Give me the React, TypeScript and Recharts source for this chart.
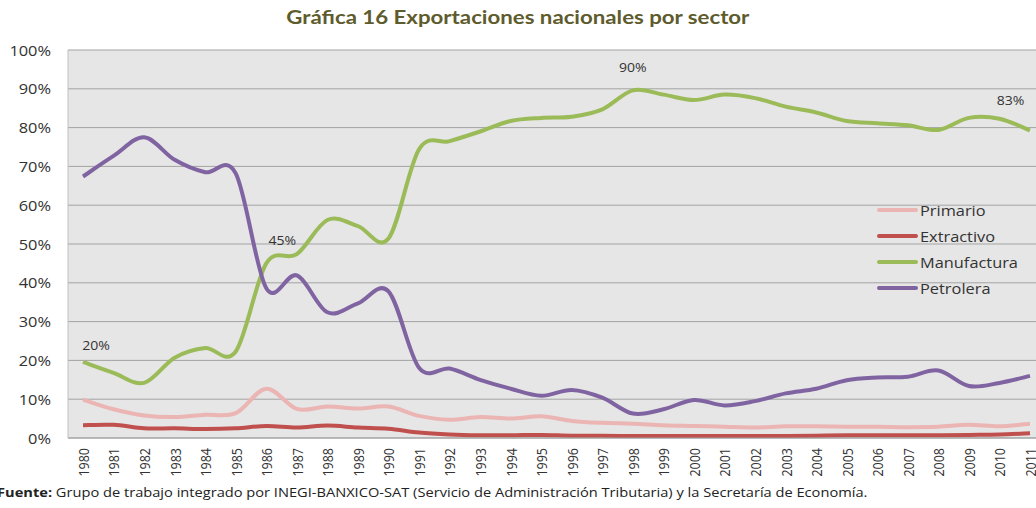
import React from "react";
import { LineChart, Line, XAxis, YAxis, CartesianGrid, LabelList } from "recharts";

const years = [
  "1980","1981","1982","1983","1984","1985","1986","1987","1988","1989",
  "1990","1991","1992","1993","1994","1995","1996","1997","1998","1999",
  "2000","2001","2002","2003","2004","2005","2006","2007","2008","2009",
  "2010","2011",
];

const primario = [
  9.9, 7.4, 5.8, 5.4, 6.0, 6.4, 12.7, 7.5, 8.1, 7.6,
  8.1, 5.7, 4.7, 5.4, 5.0, 5.6, 4.4, 3.9, 3.7, 3.3,
  3.1, 2.9, 2.7, 3.0, 3.0, 2.9, 2.9, 2.8, 2.9, 3.4,
  3.0, 3.7,
];

const extractivo = [
  3.3, 3.4, 2.5, 2.5, 2.3, 2.5, 3.1, 2.7, 3.2, 2.7,
  2.4, 1.4, 0.9, 0.7, 0.7, 0.8, 0.6, 0.6, 0.5, 0.5,
  0.5, 0.5, 0.5, 0.5, 0.6, 0.7, 0.7, 0.7, 0.7, 0.8,
  0.9, 1.2,
];

const manufactura = [
  19.6, 16.8, 14.2, 20.7, 23.2, 22.3, 45.0, 47.4, 56.2, 54.6,
  51.4, 74.4, 76.5, 79.0, 81.7, 82.5, 82.8, 84.7, 89.6, 88.5,
  87.1, 88.5, 87.6, 85.4, 83.9, 81.7, 81.1, 80.6, 79.4, 82.5,
  82.3, 79.3,
];

const petrolera = [
  67.4, 72.7, 77.5, 71.7, 68.5, 68.2, 38.6, 41.9, 32.4, 34.7,
  37.8, 18.1, 17.9, 15.0, 12.7, 10.9, 12.4, 10.4, 6.3, 7.4,
  9.8, 8.4, 9.5, 11.5, 12.7, 14.9, 15.6, 15.8, 17.4, 13.4,
  14.2, 16.0,
];

const yTicks = [0, 10, 20, 30, 40, 50, 60, 70, 80, 90, 100];

// Annotated values on the Manufactura series (year -> text)
const annotationYears = ["1980", "1986", "1998", "2010"];
const annotationTexts = ["20%", "45%", "90%", "83%"];

const seriesNames = ["Primario", "Extractivo", "Manufactura", "Petrolera"];
const seriesColors = ["#EBB5B4", "#C0504D", "#9BBB59", "#8064A2"];

const data = years.map((y, i) => ({
  year: y,
  Primario: primario[i],
  Extractivo: extractivo[i],
  Manufactura: manufactura[i],
  Petrolera: petrolera[i],
}));

const SX = 1.17;
const FONT = "'Open Sans', sans-serif";
const TEXT = "#333333";

const annotationOffsets: Record<string, [number, number]> = {
  "1980": [13, -17],
  "1986": [16, -23],
  "1998": [0, -23],
  "2010": [11, -18],
};

// Catmull-Rom style smoothing similar to spreadsheet "smoothed line"
const smoothCurve: any = (context: any) => {
  let pts: [number, number][] = [];
  return {
    areaStart() {},
    areaEnd() {},
    lineStart() {
      pts = [];
    },
    point(x: number, y: number) {
      pts.push([+x, +y]);
    },
    lineEnd() {
      const n = pts.length;
      if (!n) return;
      context.moveTo(pts[0][0], pts[0][1]);
      for (let i = 0; i < n - 1; i++) {
        const p0 = pts[Math.max(0, i - 1)];
        const p1 = pts[i];
        const p2 = pts[i + 1];
        const p3 = pts[Math.min(n - 1, i + 2)];
        const c1x = p1[0] + (p2[0] - p0[0]) / 6;
        const c1y = p1[1] + (p2[1] - p0[1]) / 6;
        const c2x = p2[0] - (p3[0] - p1[0]) / 6;
        const c2y = p2[1] - (p3[1] - p1[1]) / 6;
        context.bezierCurveTo(c1x, c1y, c2x, c2y, p2[0], p2[1]);
      }
    },
  };
};

const YTick = (props: any) => {
  const { x, y, payload } = props;
  return (
    <g transform={`translate(${x},${y}) scale(${SX},1)`}>
      <text textAnchor="end" dominantBaseline="central" fontFamily={FONT} fontSize={14} fill={TEXT}>
        {payload.value}%
      </text>
    </g>
  );
};

const XTick = (props: any) => {
  const { x, y, payload } = props;
  return (
    <g transform={`translate(${x},${y}) scale(${SX},1) rotate(-90)`}>
      <text textAnchor="end" dominantBaseline="central" fontFamily={FONT} fontSize={12.5} fill={TEXT}>
        {payload.value}
      </text>
    </g>
  );
};

const AnnotationLabel = (props: any) => {
  const { x, y, index } = props;
  const yr = years[index];
  const k = annotationYears.indexOf(yr);
  if (k < 0) return null;
  const [dx, dy] = annotationOffsets[yr] || [0, -20];
  return (
    <g transform={`translate(${x + dx},${y + dy}) scale(${SX},1)`}>
      <text textAnchor="middle" dominantBaseline="central" fontFamily={FONT} fontSize={12} fill={TEXT}>
        {annotationTexts[k]}
      </text>
    </g>
  );
};

const LegendBox = () => (
  <svg width={160} height={110} style={{ position: "absolute", left: 876, top: 200, overflow: "visible" }}>
    {seriesNames.map((n, i) => (
      <g key={n} transform={`translate(0,${i * 26 + 10})`}>
        <line x1={3} x2={40} y1={0} y2={0} stroke={seriesColors[i]} strokeWidth={4} strokeLinecap="round" />
        <g transform={`translate(44,0) scale(${SX},1)`}>
          <text dominantBaseline="central" fontFamily={FONT} fontSize={14} fill={TEXT}>
            {n}
          </text>
        </g>
      </g>
    ))}
  </svg>
);

export default function App() {
  return (
    <div style={{ position: "relative", width: 1036, height: 508, background: "#fff", overflow: "hidden" }}>
      <style>{`html,body{margin:0;padding:0;overflow:hidden;background:#fff}`}</style>
      <div
        style={{
          position: "absolute",
          left: 0,
          width: 1036,
          top: 5,
          textAlign: "center",
          fontFamily: "Lato, sans-serif",
          fontWeight: 700,
          fontSize: 19,
          color: "#5E5B2D",
        }}
      >
        <span style={{ display: "inline-block", transform: `scaleX(${SX})`, transformOrigin: "center" }}>
          Gráfica 16 Exportaciones nacionales por sector
        </span>
      </div>
      <div style={{ position: "absolute", left: 0, top: 0 }}>
        <LineChart width={1036} height={508} data={data} margin={{ top: 50, right: 0, bottom: 30, left: 8 }}>
          <CartesianGrid vertical={false} stroke="#A3A3A3" fill="#E6E6E6" strokeWidth={1} />
          <XAxis
            dataKey="year"
            interval={0}
            height={40}
            padding={{ left: 15, right: 6 }}
            axisLine={{ stroke: "#A3A3A3" }}
            tickLine={false}
            tickSize={0}
            tickMargin={10}
            tick={<XTick />}
          />
          <YAxis
            domain={[0, 100]}
            ticks={yTicks}
            width={60}
            axisLine={{ stroke: "#BFBFBF" }}
            tickLine={false}
            tickSize={0}
            tickMargin={17}
            tick={<YTick />}
          />
          <Line type={smoothCurve} dataKey="Primario" stroke={seriesColors[0]} strokeWidth={4} dot={false} isAnimationActive={false} />
          <Line type={smoothCurve} dataKey="Extractivo" stroke={seriesColors[1]} strokeWidth={4} dot={false} isAnimationActive={false} />
          <Line type={smoothCurve} dataKey="Manufactura" stroke={seriesColors[2]} strokeWidth={4} dot={false} isAnimationActive={false}>
            <LabelList dataKey="Manufactura" content={<AnnotationLabel />} />
          </Line>
          <Line type={smoothCurve} dataKey="Petrolera" stroke={seriesColors[3]} strokeWidth={4} dot={false} isAnimationActive={false} />
        </LineChart>
      </div>
      <LegendBox />
      <div
        style={{
          position: "absolute",
          left: -3,
          top: 484,
          whiteSpace: "nowrap",
          fontFamily: FONT,
          fontSize: 12.5,
          color: "#222",
          transform: `scaleX(${SX})`,
          transformOrigin: "left center",
        }}
      >
        <b>Fuente:</b> Grupo de trabajo integrado por INEGI-BANXICO-SAT (Servicio de Administración Tributaria) y la Secretaría de Economía.
      </div>
    </div>
  );
}
